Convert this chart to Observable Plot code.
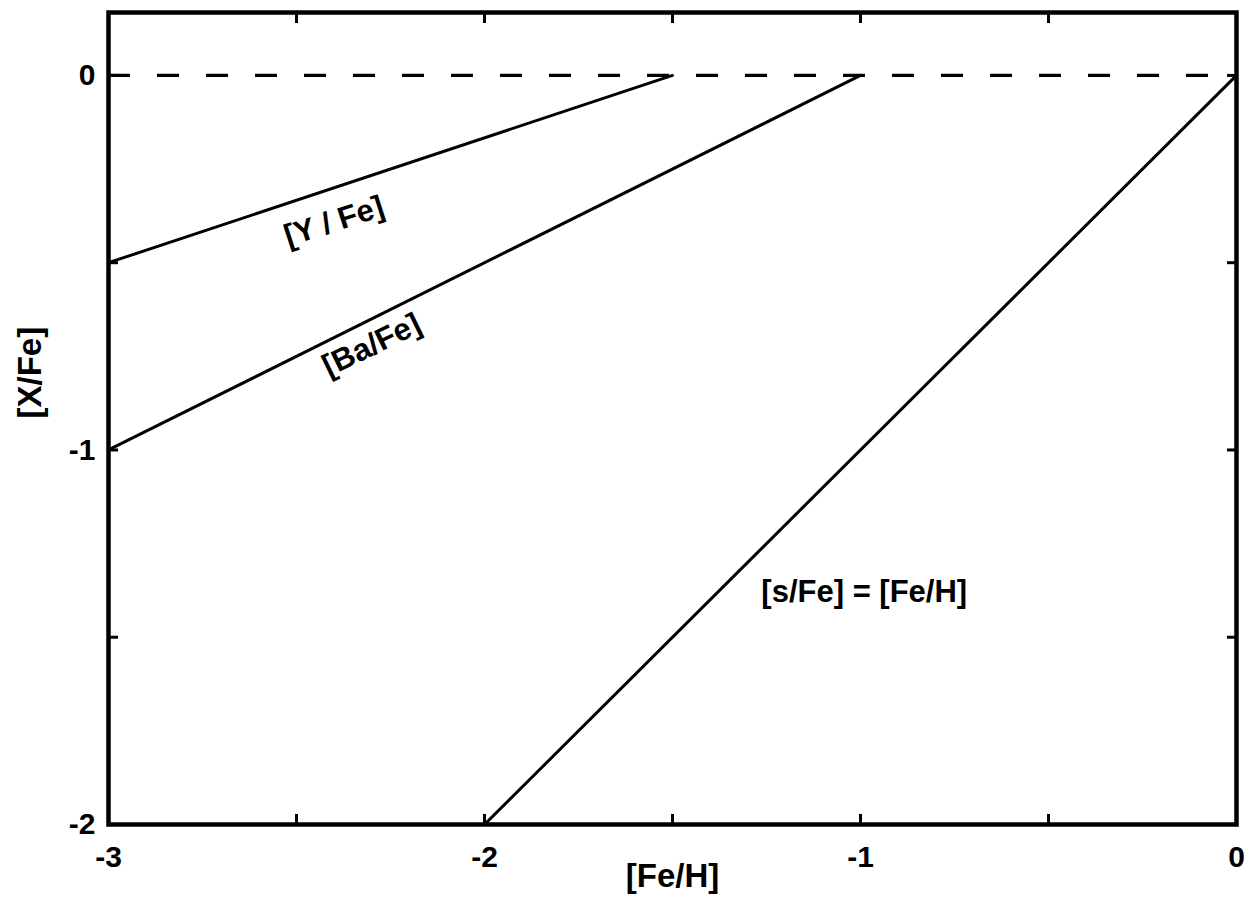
<!DOCTYPE html>
<html>
<head>
<meta charset="utf-8">
<script src="https://cdn.jsdelivr.net/npm/d3@7"></script>
<script src="https://cdn.jsdelivr.net/npm/@observablehq/plot@0.6"></script>
<style>
  html, body { margin: 0; padding: 0; background: #fff; }
  #chart svg { font-family: "Liberation Sans Narrow", "Liberation Sans", Arial, sans-serif; font-weight: bold; }
</style>
</head>
<body>
<div id="chart"></div>
<script>
// Data
const yFeX = [-3, -1.5];
const yFeY = [-0.5, 0];
const baFeX = [-3, -1];
const baFeY = [-1, 0];
const sFeX = [-2, 0];
const sFeY = [-2, 0];
const refY = [0];

const xTickLabels = [-3, -2, -1, 0];
const yTickLabels = [0, -1, -2];
const xMinorTicks = [-3, -2.5, -2, -1.5, -1, -0.5, 0];
const yMinorTicks = [0, -0.5, -1, -1.5, -2];

const curveLabels = ["[Y / Fe]", "[Ba/Fe]", "[s/Fe] = [Fe/H]"];
const curveLabelX = [-2.40, -2.30, -0.99];
const curveLabelY = [-0.39, -0.72, -1.38];
const curveLabelRotate = [-18, -26, 0];

const xLabel = "[Fe/H]";
const yLabel = "[X/Fe]";

const toPts = (xs, ys) => xs.map((x, i) => ({x, y: ys[i]}));
const labelsData = curveLabels.map((t, i) => ({t, x: curveLabelX[i], y: curveLabelY[i], r: curveLabelRotate[i]}));

const fmt = d => String(d);

const chart = Plot.plot({
  width: 1254,
  height: 917,
  marginLeft: 108,
  marginRight: 18,
  marginTop: 12,
  marginBottom: 93,
  x: {domain: [-3, 0]},
  y: {domain: [-2, 0.168]},
  style: {background: "#fff", color: "#000"},
  marks: [
    Plot.ruleY(refY, {stroke: "#000", strokeWidth: 3.2, strokeDasharray: "22,27"}),
    Plot.line(toPts(yFeX, yFeY), {x: "x", y: "y", stroke: "#000", strokeWidth: 3}),
    Plot.line(toPts(baFeX, baFeY), {x: "x", y: "y", stroke: "#000", strokeWidth: 3}),
    Plot.line(toPts(sFeX, sFeY), {x: "x", y: "y", stroke: "#000", strokeWidth: 3}),
    // inward minor ticks
    Plot.axisX({anchor: "bottom", ticks: xMinorTicks, tickSize: -10, tickFormat: () => "", label: null, strokeWidth: 3}),
    Plot.axisX({anchor: "top", ticks: xMinorTicks, tickSize: -10, tickFormat: () => "", label: null, strokeWidth: 3}),
    Plot.axisY({anchor: "left", ticks: yMinorTicks, tickSize: -10, tickFormat: () => "", label: null, strokeWidth: 3}),
    Plot.axisY({anchor: "right", ticks: yMinorTicks, tickSize: -10, tickFormat: () => "", label: null, strokeWidth: 3}),
    // tick labels
    Plot.axisX({anchor: "bottom", ticks: xTickLabels, tickSize: 0, tickPadding: 21, tickFormat: fmt, label: null, fontSize: 30, fontWeight: "bold"}),
    Plot.axisY({anchor: "left", ticks: yTickLabels, tickSize: 0, tickPadding: 13, tickFormat: fmt, label: null, fontSize: 30, fontWeight: "bold"}),
    Plot.frame({stroke: "#000", strokeWidth: 4.5}),
    Plot.text(labelsData, {x: "x", y: "y", text: "t", rotate: "r", fontSize: 31, fontWeight: "bold", fill: "#000"}),
    Plot.text([xLabel], {frameAnchor: "bottom", dy: 62, text: d => d, fontSize: 33, fontWeight: "bold", fill: "#000"}),
    Plot.text([yLabel], {frameAnchor: "left", dx: -78, rotate: -90, text: d => d, fontSize: 33, fontWeight: "bold", fill: "#000"})
  ]
});
document.getElementById("chart").appendChild(chart);
</script>
</body>
</html>
